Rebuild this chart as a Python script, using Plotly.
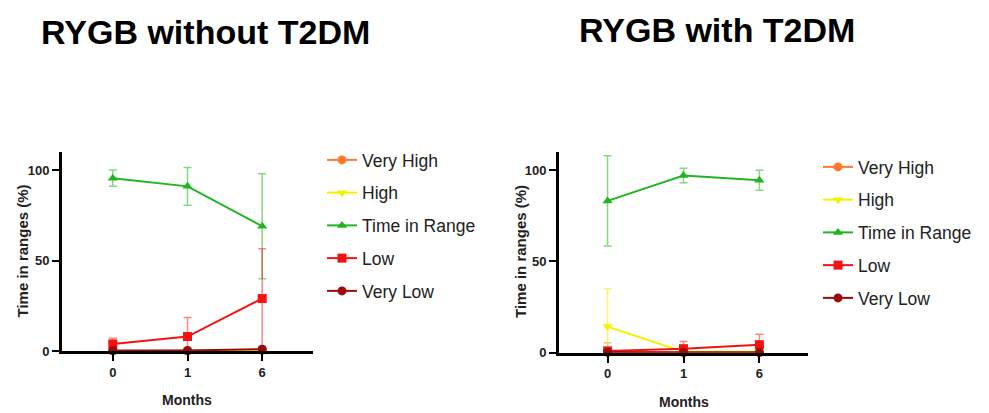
import plotly.graph_objects as go

W, H = 989, 413
OFF = 8  # page body margin offset in screen pixels

months = ["0", "1", "6"]
series_names = ["Very High", "High", "Time in Range", "Low", "Very Low"]
colors = ["#FF7A2E", "#F2F200", "#22B522", "#F21212", "#9B0A0A"]
err_colors = ["rgba(255,122,46,0.55)", "rgba(242,242,0,0.6)", "rgba(34,181,34,0.55)",
              "rgba(242,18,18,0.5)", "rgba(155,10,10,0.5)"]
symbols = ["circle", "triangle-down", "triangle-up", "square", "circle"]

# RYGB without T2DM
left_means = {
    "Very High": [0.0, 0.0, 0.3],
    "High": [0.0, 0.0, 0.5],
    "Time in Range": [95.5, 91.0, 69.0],
    "Low": [3.9, 8.0, 29.0],
    "Very Low": [0.3, 0.3, 1.0],
}
left_sd = {
    "Very High": [0.0, 0.0, 0.5],
    "High": [0.0, 0.0, 1.0],
    "Time in Range": [4.5, 10.5, 29.0],
    "Low": [3.2, 10.5, 27.5],
    "Very Low": [0.5, 0.5, 1.5],
}
# RYGB with T2DM
right_means = {
    "Very High": [0.5, 0.0, 0.0],
    "High": [14.3, 0.5, 0.5],
    "Time in Range": [83.2, 97.1, 94.5],
    "Low": [1.0, 2.2, 4.4],
    "Very Low": [0.2, 0.2, 0.2],
}
right_sd = {
    "Very High": [5.0, 0.5, 0.5],
    "High": [20.7, 1.0, 1.0],
    "Time in Range": [24.7, 4.0, 5.5],
    "Low": [1.5, 4.0, 5.7],
    "Very Low": [0.5, 0.5, 0.5],
}

FONT = "Liberation Sans, Arial, sans-serif"


def px(xs):
    return (xs - OFF) / W


def py(ys):
    return 1 - (ys - OFF) / H


fig = go.Figure()


def add_panel(means, sds, xa, ya, legend):
    for i, name in enumerate(series_names):
        m = means[name]
        s = sds[name]
        sminus = [min(a, b) for a, b in zip(s, m)]
        fig.add_trace(go.Scatter(
            x=months, y=m, name=name, mode="lines+markers",
            xaxis=xa, yaxis=ya, legend=legend, legendgroup=legend + name,
            line=dict(color=colors[i], width=2),
            marker=dict(color=colors[i], symbol=symbols[i], size=9),
            error_y=dict(type="data", array=s, arrayminus=sminus, symmetric=False,
                         color=err_colors[i], thickness=1.5, width=4),
            cliponaxis=False,
        ))


add_panel(left_means, left_sd, "x", "y", "legend")
add_panel(right_means, right_sd, "x2", "y2", "legend2")

axis_common = dict(showline=True, linecolor="black", linewidth=3, ticks="outside",
                   tickwidth=2, tickcolor="black", ticklen=7, showgrid=False, zeroline=False,
                   automargin=False,
                   tickfont=dict(family=FONT, size=13, color="#222", weight="bold"))

fig.update_layout(
    width=W, height=H, margin=dict(l=0, r=0, t=0, b=0, autoexpand=False),
    paper_bgcolor="white", plot_bgcolor="white",
    font=dict(family=FONT, color="#222"),
    xaxis=dict(domain=[px(62), px(313)], type="category", range=[-0.68, 2.68],
               anchor="y", **axis_common),
    yaxis=dict(domain=[py(351), py(152)], range=[0, 110], tickvals=[0, 50, 100],
               anchor="x", **axis_common),
    xaxis2=dict(domain=[px(559), px(808)], type="category", range=[-0.64, 2.64],
                anchor="y2", **axis_common),
    yaxis2=dict(domain=[py(352.7), py(152)], range=[0, 110], tickvals=[0, 50, 100],
                anchor="x2", **axis_common),
    legend=dict(x=px(322), y=py(142), xanchor="left", yanchor="top",
                font=dict(family=FONT, size=17.5, color="#222"), tracegroupgap=7,
                bgcolor="rgba(0,0,0,0)"),
    legend2=dict(x=px(818), y=py(149), xanchor="left", yanchor="top",
                 font=dict(family=FONT, size=17.5, color="#222"), tracegroupgap=7,
                 bgcolor="rgba(0,0,0,0)"),
)

annots = [
    ("<b>RYGB without T2DM</b>", 205, 32, 34, 0),
    ("<b>RYGB with T2DM</b>", 717, 30, 34, 0),
    ("<b>Time in ranges (%)</b>", 21.5, 251, 15, -90),
    ("<b>Time in ranges (%)</b>", 521, 252, 15, -90),
    ("<b>Months</b>", 187, 400, 14, 0),
    ("<b>Months</b>", 684, 402, 14, 0),
]
for text, xs, ys, size, ang in annots:
    fig.add_annotation(text=text, x=px(xs), y=py(ys), xref="paper", yref="paper",
                       showarrow=False, textangle=ang,
                       font=dict(family=FONT, size=size, color="black" if size > 20 else "#222"),
                       xanchor="center", yanchor="middle")

fig.write_html("out.html")
